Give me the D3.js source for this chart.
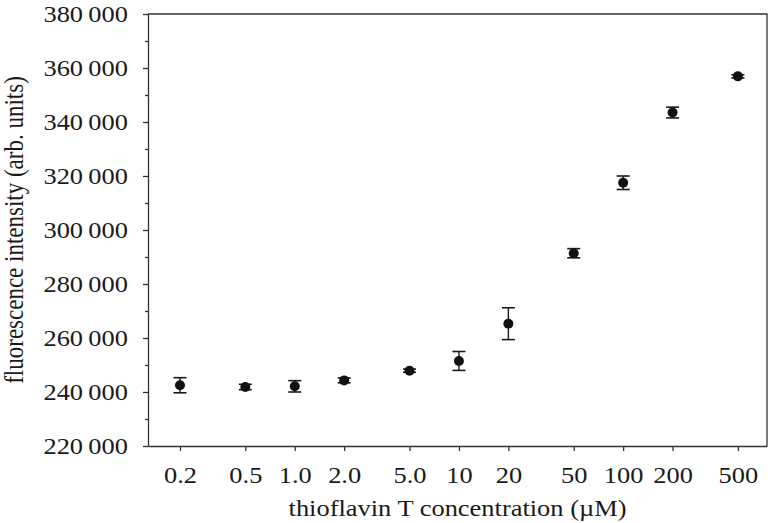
<!DOCTYPE html>
<html>
<head>
<meta charset="utf-8">
<script src="https://cdn.jsdelivr.net/npm/d3@7"></script>
<style>
  body { margin: 0; background: #fff; }
  text { font-family: "Liberation Serif", "DejaVu Serif", serif; fill: #1a1a1a; }
  .axis path, .axis line { stroke: #333; stroke-width: 1.3px; }
</style>
</head>
<body>
<svg id="chart" width="770" height="523"></svg>
<script>
// concentrations (uM) and their tick labels
const conc = [0.2, 0.5, 1, 2, 5, 10, 20, 50, 100, 200, 500];
const concLabels = ["0.2", "0.5", "1.0", "2.0", "5.0", "10", "20", "50", "100", "200", "500"];
// mean fluorescence intensity and error (arb. units)
const intensity = [242500, 241850, 242100, 244300, 247900, 251500, 265300, 291400, 317500, 343500, 356900];
const intensityErr = [2800, 1000, 2100, 900, 600, 3500, 5900, 1700, 2500, 2000, 600];
const yTicks = [220000, 240000, 260000, 280000, 300000, 320000, 340000, 360000, 380000];
const yMinorTicks = [230000, 250000, 270000, 290000, 310000, 330000, 350000, 370000];

const mLeft = 148, mRight = 767, mTop = 14, mBottom = 446;
const stretch = 1.15; // the original figure's text is a bit wide
const fontSize = "23px";

const svg = d3.select("#chart");

const x = d3.scaleLog().domain([0.1277, 752]).range([mLeft, mRight]);
const y = d3.scaleLinear().domain([220000, 380000]).range([mBottom, mTop]);

const fmt = d => d3.format(",")(d).replace(",", "\u2009");

// minor y ticks
svg.append("g").attr("class", "axis")
    .attr("transform", `translate(${mLeft},0)`)
    .call(d3.axisLeft(y).tickValues(yMinorTicks).tickSize(3).tickFormat(""))
    .call(g => g.select(".domain").remove());

// y axis
svg.append("g").attr("class", "axis")
    .attr("transform", `translate(${mLeft},0)`)
    .call(d3.axisLeft(y).tickValues(yTicks).tickSize(5).tickSizeOuter(0).tickPadding(15).tickFormat(fmt))
    .call(g => g.selectAll("text")
        .style("font-size", fontSize)
        .attr("x", -20 / stretch)
        .attr("transform", `scale(${stretch},1)`));

// x axis
svg.append("g").attr("class", "axis")
    .attr("transform", `translate(0,${mBottom})`)
    .call(d3.axisBottom(x).tickValues(conc).tickSize(5).tickSizeOuter(0).tickPadding(16)
        .tickFormat((d, i) => concLabels[i]))
    .call(g => g.selectAll("text")
        .style("font-size", fontSize)
        .attr("transform", `scale(${stretch},1)`));

// frame (top and right spines)
svg.append("path")
    .attr("d", `M${mLeft},${mTop}H${mRight}V${mBottom}`)
    .attr("fill", "none")
    .attr("stroke", "#333")
    .attr("stroke-width", 1.3);

// error bars
const pts = svg.append("g").selectAll("g")
    .data(conc)
    .enter()
    .append("g");

pts.append("line")
    .attr("x1", d => x(d)).attr("x2", d => x(d))
    .attr("y1", (d, i) => y(intensity[i] + intensityErr[i]))
    .attr("y2", (d, i) => y(intensity[i] - intensityErr[i]))
    .attr("stroke", "#1a1a1a").attr("stroke-width", 1.4);

[1, -1].forEach(s => {
    pts.append("line")
        .attr("x1", d => x(d) - 6.5).attr("x2", d => x(d) + 6.5)
        .attr("y1", (d, i) => y(intensity[i] + s * intensityErr[i]))
        .attr("y2", (d, i) => y(intensity[i] + s * intensityErr[i]))
        .attr("stroke", "#1a1a1a").attr("stroke-width", 1.6);
});

pts.append("circle")
    .attr("cx", d => x(d))
    .attr("cy", (d, i) => y(intensity[i]))
    .attr("r", 5)
    .attr("fill", "#111");

// labels
svg.append("text")
    .attr("transform", `translate(${(mLeft + mRight) / 2},516) scale(${stretch},1)`)
    .attr("text-anchor", "middle")
    .style("font-size", fontSize)
    .text("thioflavin T concentration (\u00b5M)");

svg.append("text")
    .attr("transform", `translate(23,${(mTop + mBottom) / 2}) scale(${stretch},1) rotate(-90)`)
    .attr("text-anchor", "middle")
    .style("font-size", fontSize)
    .text("fluorescence intensity (arb. units)");
</script>
</body>
</html>
